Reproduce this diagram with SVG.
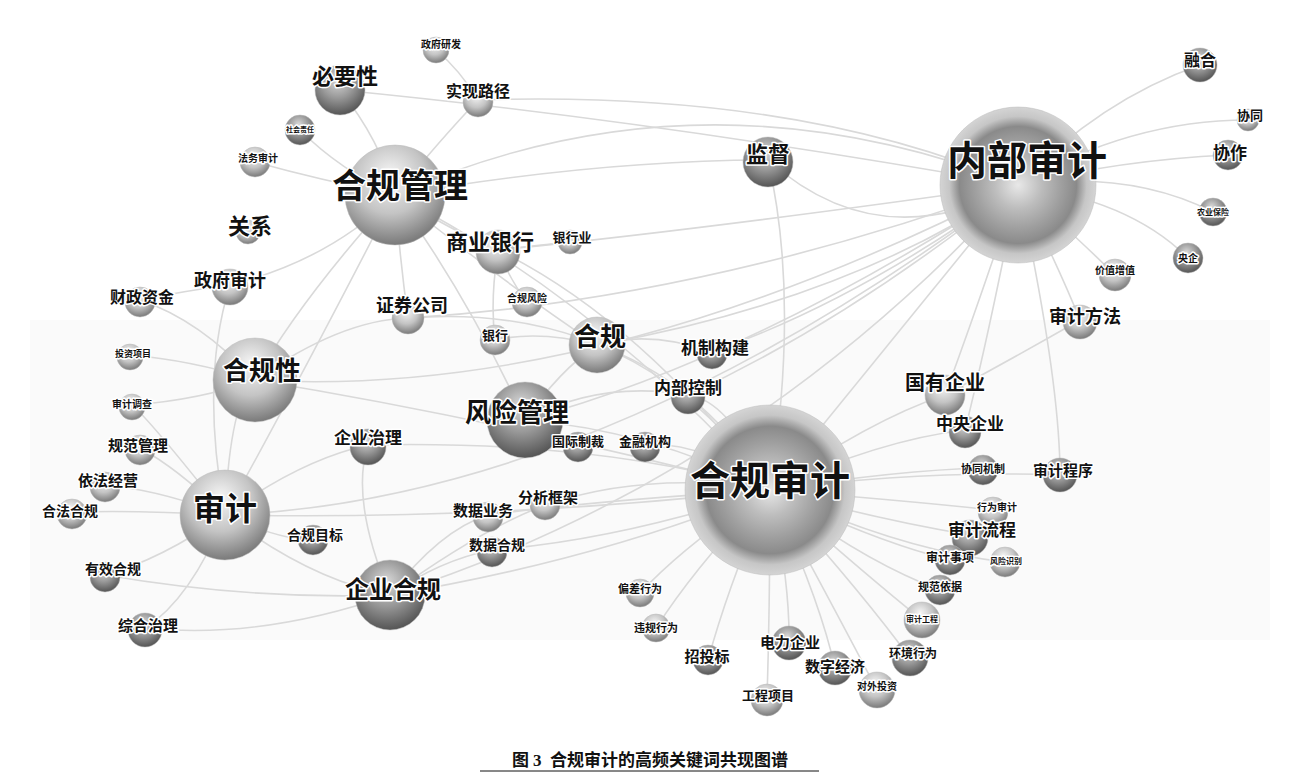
<svg xmlns="http://www.w3.org/2000/svg" width="1300" height="783" viewBox="0 0 1300 783">
<defs>
<radialGradient id="g" cx="0.45" cy="0.35" r="0.65" fx="0.45" fy="0.3">
<stop offset="0" stop-color="#f6f6f6"/><stop offset="0.55" stop-color="#c4c4c4"/><stop offset="1" stop-color="#7a7a7a"/>
</radialGradient>
<radialGradient id="d" cx="0.45" cy="0.35" r="0.65" fx="0.45" fy="0.3">
<stop offset="0" stop-color="#d8d8d8"/><stop offset="0.5" stop-color="#9a9a9a"/><stop offset="1" stop-color="#555"/>
</radialGradient>
<radialGradient id="hub" cx="0.5" cy="0.5" r="0.5">
<stop offset="0" stop-color="#e8e8e8"/><stop offset="0.3" stop-color="#bdbdbd"/><stop offset="0.55" stop-color="#a0a0a0"/><stop offset="0.75" stop-color="#8a8a8a"/><stop offset="0.88" stop-color="#c6c6c6"/><stop offset="1" stop-color="#d4d4d4"/>
</radialGradient>
</defs>
<style>
.e path{fill:none;stroke:#d9d9d9;stroke-width:1.6}
circle{stroke:#bbb;stroke-width:0.5}
text{font-family:"Noto Sans CJK SC",sans-serif;font-weight:bold;fill:#111;text-anchor:middle;paint-order:stroke;stroke:#fff;stroke-width:3px;stroke-linejoin:round}
.cap{font-family:"Liberation Serif","Noto Sans CJK SC",serif;font-weight:bold;stroke:none;font-size:17px}
</style>
<rect width="1300" height="783" fill="#fff"/>
<rect x="30" y="320" width="1240" height="320" fill="#fafafa"/>
<g class="e">
<path d="M1018,185 Q700,60 395,195"/><path d="M1018,185 Q650,120 340,90"/><path d="M1018,185 Q800,90 478,100"/>
<path d="M1018,185 Q900,330 770,490"/><path d="M1018,185 Q850,300 597,345"/><path d="M1018,185 Q700,230 498,250"/>
<path d="M1018,185 Q700,300 408,318"/><path d="M1018,185 Q750,360 525,420"/><path d="M1018,185 Q600,400 255,380"/>
<path d="M1018,185 Q600,500 225,515"/><path d="M1018,185 Q750,480 390,595"/><path d="M1018,185 Q1100,100 1200,65"/>
<path d="M1018,185 Q1130,120 1248,120"/><path d="M1018,185 Q1120,160 1228,155"/><path d="M1018,185 Q1130,170 1213,212"/>
<path d="M1018,185 Q1130,200 1188,258"/><path d="M1018,185 Q1080,240 1115,275"/><path d="M1018,185 Q1060,270 1080,320"/>
<path d="M1018,185 Q980,300 945,395"/><path d="M1018,185 Q990,330 965,430"/><path d="M1018,185 Q880,260 768,160"/>
<path d="M1018,185 Q850,320 688,395"/><path d="M1018,185 Q860,300 712,352"/><path d="M1018,185 Q1060,380 1060,475"/>
<path d="M770,490 Q600,300 395,195"/><path d="M770,490 Q500,420 255,380"/><path d="M770,490 Q500,520 225,515"/>
<path d="M770,490 Q600,560 390,595"/><path d="M770,490 Q650,430 525,420"/><path d="M770,490 Q700,380 597,345"/>
<path d="M770,490 Q640,320 498,250"/><path d="M770,490 Q800,300 768,160"/><path d="M770,490 Q870,420 945,395"/>
<path d="M770,490 Q880,440 965,430"/><path d="M770,490 Q920,470 1060,475"/><path d="M770,490 Q900,470 983,468"/>
<path d="M770,490 Q900,500 993,510"/><path d="M770,490 Q880,520 970,535"/><path d="M770,490 Q900,550 1005,562"/>
<path d="M770,490 Q870,540 950,560"/><path d="M770,490 Q860,560 940,590"/><path d="M770,490 Q860,570 922,620"/>
<path d="M770,490 Q860,590 910,658"/><path d="M770,490 Q830,600 877,690"/><path d="M770,490 Q820,600 835,668"/>
<path d="M770,490 Q770,600 767,700"/><path d="M770,490 Q790,580 789,643"/><path d="M770,490 Q730,580 708,660"/>
<path d="M770,490 Q700,560 656,628"/><path d="M770,490 Q690,540 640,593"/><path d="M770,490 Q700,440 645,445"/>
<path d="M770,490 Q650,470 545,505"/><path d="M770,490 Q600,500 488,515"/><path d="M770,490 Q620,540 492,550"/>
<path d="M770,490 Q730,400 688,395"/><path d="M770,490 Q640,300 408,318"/><path d="M770,490 Q600,440 368,445"/>
<path d="M395,195 Q380,140 340,90"/><path d="M395,195 Q440,140 478,100"/><path d="M395,195 Q340,170 300,130"/>
<path d="M395,195 Q320,180 255,162"/><path d="M395,195 Q300,300 255,380"/><path d="M395,195 Q300,380 225,515"/>
<path d="M395,195 Q450,230 498,250"/><path d="M395,195 Q400,260 408,318"/><path d="M395,195 Q500,280 597,345"/>
<path d="M395,195 Q600,160 768,160"/><path d="M395,195 Q330,260 230,285"/><path d="M395,195 Q470,300 525,420"/>
<path d="M225,515 Q230,400 255,380"/><path d="M225,515 Q180,470 140,448"/><path d="M225,515 Q160,490 105,485"/>
<path d="M225,515 Q140,510 72,512"/><path d="M225,515 Q160,560 105,575"/><path d="M225,515 Q190,600 145,628"/>
<path d="M225,515 Q280,540 313,540"/><path d="M225,515 Q310,580 390,595"/><path d="M225,515 Q300,460 368,445"/>
<path d="M225,515 Q200,380 230,285"/><path d="M225,515 Q150,420 132,405"/><path d="M255,380 Q190,360 130,355"/>
<path d="M255,380 Q200,320 140,300"/><path d="M255,380 Q200,400 132,405"/><path d="M255,380 Q340,320 408,318"/>
<path d="M390,595 Q350,500 368,445"/><path d="M390,595 Q440,560 492,550"/><path d="M390,595 Q440,530 488,515"/>
<path d="M390,595 Q260,640 145,628"/><path d="M390,595 Q250,600 105,575"/><path d="M390,595 Q480,530 545,505"/>
<path d="M525,420 Q560,440 578,447"/><path d="M525,420 Q600,380 688,395"/><path d="M525,420 Q560,370 597,345"/>
<path d="M597,345 Q650,330 712,352"/><path d="M597,345 Q540,330 495,340"/><path d="M498,250 Q540,245 570,242"/>
<path d="M498,250 Q510,280 527,302"/><path d="M498,250 Q490,300 495,340"/><path d="M230,285 Q190,290 140,300"/>
<path d="M478,100 Q460,70 436,50"/><path d="M1080,320 Q1010,360 945,395"/>
</g>
<g id="hubs">
<g id="n-nbsj"><circle cx="1018" cy="185" r="78" fill="url(#hub)"/><text x="1027" y="175" font-size="40">内部审计</text></g>
<g id="n-hgsj"><circle cx="770" cy="490" r="85" fill="url(#hub)"/><text x="770" y="495" font-size="40">合规审计</text></g>
</g>
<g id="nodes">
<g id="n1"><circle cx="395" cy="195" r="50" fill="url(#g)"/><text x="400" y="198" font-size="34">合规管理</text></g>
<g id="n2"><circle cx="225" cy="515" r="45" fill="url(#g)"/><text x="225" y="520" font-size="32">审计</text></g>
<g id="n3"><circle cx="255" cy="380" r="42" fill="url(#g)"/><text x="262" y="380" font-size="26">合规性</text></g>
<g id="n4"><circle cx="390" cy="595" r="35" fill="url(#d)"/><text x="393" y="598" font-size="24">企业合规</text></g>
<g id="n5"><circle cx="525" cy="420" r="38" fill="url(#d)"/><text x="517" y="422" font-size="26">风险管理</text></g>
<g id="n6"><circle cx="597" cy="345" r="28" fill="url(#g)"/><text x="600" y="346" font-size="26">合规</text></g>
<g id="n7"><circle cx="768" cy="162" r="25" fill="url(#d)"/><text x="768" y="162" font-size="22">监督</text></g>
<g id="n8"><circle cx="340" cy="90" r="25" fill="url(#d)"/><text x="345" y="84" font-size="22">必要性</text></g>
<g id="n9"><circle cx="1200" cy="65" r="17" fill="url(#d)"/><text x="1200" y="66" font-size="16">融合</text></g>
<g id="n10"><circle cx="1248" cy="120" r="11" fill="url(#g)"/><text x="1250" y="120" font-size="13">协同</text></g>
<g id="n11"><circle cx="1228" cy="155" r="15" fill="url(#d)"/><text x="1230" y="159" font-size="17">协作</text></g>
<g id="n12"><circle cx="1213" cy="212" r="14" fill="url(#d)"/><text x="1213" y="215" font-size="8">农业保险</text></g>
<g id="n13"><circle cx="1188" cy="258" r="15" fill="url(#d)"/><text x="1188" y="262" font-size="10">央企</text></g>
<g id="n14"><circle cx="1115" cy="275" r="16" fill="url(#g)"/><text x="1115" y="274" font-size="10">价值增值</text></g>
<g id="n15"><circle cx="1080" cy="322" r="17" fill="url(#g)"/><text x="1085" y="323" font-size="18">审计方法</text></g>
<g id="n16"><circle cx="945" cy="395" r="20" fill="url(#g)"/><text x="945" y="390" font-size="20">国有企业</text></g>
<g id="n17"><circle cx="965" cy="432" r="16" fill="url(#d)"/><text x="970" y="430" font-size="17">中央企业</text></g>
<g id="n18"><circle cx="1060" cy="475" r="17" fill="url(#d)"/><text x="1063" y="476" font-size="15">审计程序</text></g>
<g id="n19"><circle cx="983" cy="470" r="15" fill="url(#d)"/><text x="983" y="473" font-size="11">协同机制</text></g>
<g id="n20"><circle cx="993" cy="512" r="15" fill="url(#g)"/><text x="997" y="511" font-size="10">行为审计</text></g>
<g id="n21"><circle cx="970" cy="538" r="18" fill="url(#d)"/><text x="982" y="536" font-size="17">审计流程</text></g>
<g id="n22"><circle cx="1005" cy="562" r="15" fill="url(#g)"/><text x="1006" y="564" font-size="8">风险识别</text></g>
<g id="n23"><circle cx="950" cy="560" r="15" fill="url(#d)"/><text x="950" y="562" font-size="12">审计事项</text></g>
<g id="n24"><circle cx="940" cy="590" r="15" fill="url(#d)"/><text x="940" y="591" font-size="11">规范依据</text></g>
<g id="n25"><circle cx="922" cy="620" r="18" fill="url(#g)"/><text x="922" y="622" font-size="8">审计工程</text></g>
<g id="n26"><circle cx="910" cy="658" r="18" fill="url(#d)"/><text x="913" y="658" font-size="12">环境行为</text></g>
<g id="n27"><circle cx="877" cy="690" r="18" fill="url(#g)"/><text x="877" y="690" font-size="10">对外投资</text></g>
<g id="n28"><circle cx="835" cy="668" r="17" fill="url(#d)"/><text x="835" y="672" font-size="15">数字经济</text></g>
<g id="n29"><circle cx="767" cy="700" r="16" fill="url(#g)"/><text x="768" y="700" font-size="13">工程项目</text></g>
<g id="n30"><circle cx="789" cy="643" r="17" fill="url(#d)"/><text x="790" y="648" font-size="15">电力企业</text></g>
<g id="n31"><circle cx="708" cy="660" r="15" fill="url(#d)"/><text x="707" y="662" font-size="15">招投标</text></g>
<g id="n32"><circle cx="656" cy="628" r="14" fill="url(#g)"/><text x="656" y="632" font-size="11">违规行为</text></g>
<g id="n33"><circle cx="640" cy="593" r="14" fill="url(#g)"/><text x="640" y="593" font-size="11">偏差行为</text></g>
<g id="n34"><circle cx="578" cy="447" r="15" fill="url(#d)"/><text x="578" y="446" font-size="13">国际制裁</text></g>
<g id="n35"><circle cx="645" cy="447" r="15" fill="url(#d)"/><text x="645" y="446" font-size="13">金融机构</text></g>
<g id="n36"><circle cx="688" cy="397" r="17" fill="url(#d)"/><text x="688" y="394" font-size="17">内部控制</text></g>
<g id="n37"><circle cx="712" cy="354" r="15" fill="url(#d)"/><text x="715" y="354" font-size="17">机制构建</text></g>
<g id="n38"><circle cx="545" cy="505" r="15" fill="url(#g)"/><text x="548" y="503" font-size="15">分析框架</text></g>
<g id="n39"><circle cx="488" cy="517" r="15" fill="url(#g)"/><text x="483" y="516" font-size="15">数据业务</text></g>
<g id="n40"><circle cx="492" cy="552" r="15" fill="url(#d)"/><text x="497" y="550" font-size="14">数据合规</text></g>
<g id="n41"><circle cx="368" cy="447" r="18" fill="url(#d)"/><text x="368" y="444" font-size="17">企业治理</text></g>
<g id="n42"><circle cx="313" cy="540" r="15" fill="url(#d)"/><text x="315" y="540" font-size="14">合规目标</text></g>
<g id="n43"><circle cx="408" cy="318" r="16" fill="url(#g)"/><text x="412" y="312" font-size="18">证券公司</text></g>
<g id="n44"><circle cx="495" cy="340" r="15" fill="url(#g)"/><text x="495" y="340" font-size="13">银行</text></g>
<g id="n45"><circle cx="527" cy="302" r="15" fill="url(#g)"/><text x="527" y="302" font-size="10">合规风险</text></g>
<g id="n46"><circle cx="498" cy="252" r="22" fill="url(#g)"/><text x="490" y="250" font-size="22">商业银行</text></g>
<g id="n47"><circle cx="570" cy="242" r="12" fill="url(#g)"/><text x="572" y="242" font-size="13">银行业</text></g>
<g id="n48"><circle cx="478" cy="102" r="15" fill="url(#g)"/><text x="478" y="97" font-size="16">实现路径</text></g>
<g id="n49"><circle cx="436" cy="50" r="13" fill="url(#g)"/><text x="441" y="48" font-size="10">政府研发</text></g>
<g id="n50"><circle cx="300" cy="130" r="15" fill="url(#d)"/><text x="300" y="132" font-size="7">社会责任</text></g>
<g id="n51"><circle cx="255" cy="162" r="15" fill="url(#g)"/><text x="258" y="162" font-size="10">法务审计</text></g>
<g id="n52"><circle cx="248" cy="232" r="12" fill="url(#g)"/><text x="250" y="234" font-size="22">关系</text></g>
<g id="n53"><circle cx="230" cy="287" r="18" fill="url(#g)"/><text x="230" y="287" font-size="18">政府审计</text></g>
<g id="n54"><circle cx="140" cy="302" r="15" fill="url(#g)"/><text x="142" y="303" font-size="16">财政资金</text></g>
<g id="n55"><circle cx="130" cy="357" r="13" fill="url(#g)"/><text x="133" y="357" font-size="9">投资项目</text></g>
<g id="n56"><circle cx="132" cy="407" r="13" fill="url(#g)"/><text x="132" y="408" font-size="10">审计调查</text></g>
<g id="n57"><circle cx="140" cy="450" r="15" fill="url(#g)"/><text x="138" y="451" font-size="15">规范管理</text></g>
<g id="n58"><circle cx="105" cy="487" r="15" fill="url(#g)"/><text x="108" y="486" font-size="15">依法经营</text></g>
<g id="n59"><circle cx="72" cy="514" r="15" fill="url(#g)"/><text x="70" y="516" font-size="14">合法合规</text></g>
<g id="n60"><circle cx="105" cy="577" r="15" fill="url(#d)"/><text x="113" y="574" font-size="14">有效合规</text></g>
<g id="n61"><circle cx="145" cy="630" r="17" fill="url(#d)"/><text x="148" y="631" font-size="15">综合治理</text></g>
</g>
<g id="caption">
<text class="cap" x="650" y="766">图 3&#160;&#160;合规审计的高频关键词共现图谱</text>
<line x1="480" y1="771" x2="819" y2="771" stroke="#111" stroke-width="1"/>
</g>
</svg>
